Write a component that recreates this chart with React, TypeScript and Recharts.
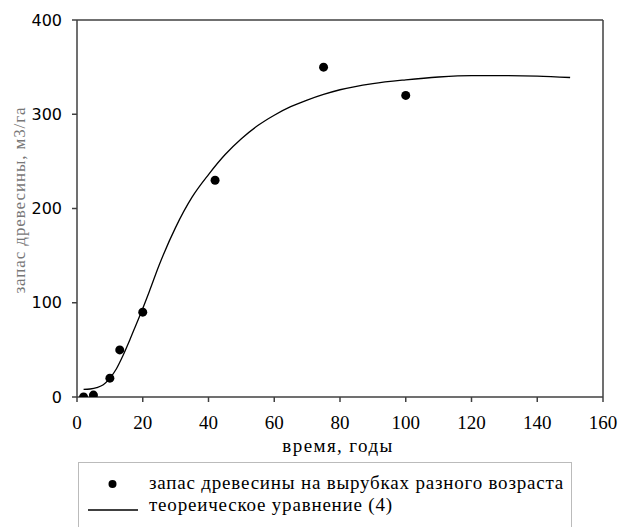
import { ComposedChart, Scatter, Line, XAxis, YAxis, ReferenceLine, Legend } from "recharts"

// measured plots (age, stock)
const ages = [2, 5, 10, 13, 20, 42, 75, 100]
const stock = [0, 2, 20, 50, 90, 230, 350, 320]

// theoretical curve
const curveYears = [2, 4, 6, 8, 10, 12, 14, 16, 18, 20, 22, 25, 30, 35, 40, 45, 50, 55, 60, 65, 70, 75, 80, 90, 100, 110, 120, 130, 140, 150]
const curveStock = [8, 8.5, 10, 13, 20, 30, 44, 60, 77, 94, 112, 140, 180, 212, 236, 257, 274, 288, 299, 308, 315, 321, 326, 332.5, 336.5, 339.5, 341, 341, 340.5, 339]

const xTicks = [0, 20, 40, 60, 80, 100, 120, 140, 160]
const yTicks = [0, 100, 200, 300, 400]

const pointsLabel = "запас древесины на вырубках разного возраста"
const curveLabel = "теореическое уравнение (4)"

const points = ages.map((x, i) => ({ x, y: stock[i] }))
const curve = curveYears.map((x, i) => ({ x, y: curveStock[i] }))

const serif = "Liberation Serif, Times New Roman, Tinos, Noto Serif, FreeSerif, DejaVu Serif, serif"
const axisColor = "#404040"

function LegendBox() {
  return (
    <div
      style={{
        border: "1.5px solid #bbb",
        borderBottom: "none",
        width: 494,
        height: 66,
        boxSizing: "border-box",
        fontFamily: serif,
        fontSize: 19,
        letterSpacing: 0.8,
        color: "#000",
        position: "relative",
      }}
    >
      <svg width={60} height={60} style={{ position: "absolute", left: 0, top: 0 }}>
        <circle cx={33.5} cy={21} r={4} fill="#000" />
        <line x1={9} x2={59} y1={47} y2={47} stroke="#000" strokeWidth={1.5} />
      </svg>
      <div style={{ position: "absolute", left: 70, top: 9, whiteSpace: "nowrap", lineHeight: "22px" }}>
        <div>{pointsLabel}</div>
        <div>{curveLabel}</div>
      </div>
    </div>
  )
}

export default function App() {
  return (
    <div style={{ position: "absolute", left: 0, top: 0, background: "#fff" }}>
      <ComposedChart width={621} height={527} margin={{ top: 20, right: 18, left: 0, bottom: 100 }}>
        <XAxis
          dataKey="x"
          type="number"
          domain={[0, 160]}
          ticks={xTicks}
          allowDataOverflow
          stroke={axisColor}
          strokeWidth={1.5}
          tickSize={5}
          tickMargin={14}
          height={30}
          tick={{ fontFamily: serif, fontSize: 19, fill: "#000" }}
          label={{
            content: () => (
              <text x={338} y={452} textAnchor="middle" fontFamily={serif} fontSize={19} letterSpacing={1.4} fill="#000">
                время, годы
              </text>
            ),
          }}
        />
        <YAxis
          dataKey="y"
          type="number"
          domain={[0, 400]}
          ticks={yTicks}
          allowDataOverflow
          width={77}
          stroke={axisColor}
          strokeWidth={1.5}
          tickSize={5}
          tickMargin={10}
          tick={{ fontFamily: "DejaVu Sans, sans-serif", fontSize: 16, fill: "#000" }}
          label={{
            content: () => (
              <text
                x={19}
                y={200}
                transform="rotate(-90 19 200)"
                textAnchor="middle"
                dominantBaseline="central"
                fontFamily={serif}
                fontSize={17}
                letterSpacing={0.9}
                fill="#777"
              >
                запас древесины, м3/га
              </text>
            ),
          }}
        />
        <ReferenceLine y={400} stroke={axisColor} strokeWidth={1.5} />
        <ReferenceLine x={160} stroke={axisColor} strokeWidth={1.5} />
        <Line
          data={curve}
          dataKey="y"
          type="monotone"
          stroke="#000"
          strokeWidth={1.3}
          dot={false}
          activeDot={false}
          isAnimationActive={false}
          legendType="line"
          name={curveLabel}
        />
        <Scatter data={points} dataKey="y" fill="#000" isAnimationActive={false} name={pointsLabel} shape={(p: any) => <circle cx={p.cx} cy={p.cy} r={4.5} fill="#000" />} />
        <Legend
          layout="vertical"
          align="center"
          verticalAlign="middle"
          wrapperStyle={{ left: 78, top: 462, width: 494 }}
          content={() => <LegendBox />}
        />
      </ComposedChart>
    </div>
  )
}
